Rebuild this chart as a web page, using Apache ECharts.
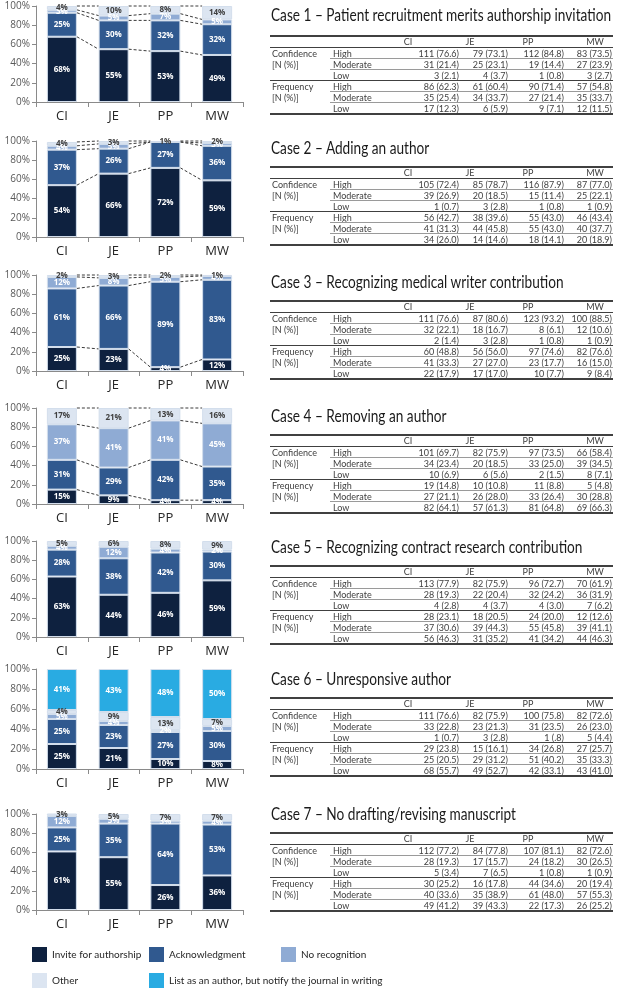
<!DOCTYPE html>
<html><head><meta charset="utf-8">
<script src="https://cdn.jsdelivr.net/npm/echarts/dist/echarts.min.js"></script>
<style>
html,body{margin:0;padding:0;background:#fff;}
#wrap{position:relative;width:618px;height:992px;overflow:hidden;background:#fff;}
#chart{position:absolute;left:0;top:0;width:618px;height:992px;}
.t{position:absolute;white-space:nowrap;font-family:Lato,"Open Sans",sans-serif;font-size:9px;color:#404040;line-height:11px;height:11px;}
.ttl{position:absolute;white-space:nowrap;font-family:Lato,"Open Sans",sans-serif;font-size:17px;color:#1a1a1a;line-height:20px;transform-origin:0 50%;}
.ln{position:absolute;height:1px;}
</style></head>
<body><div id="wrap"><div id="chart"></div></div>
<script>
// ---------- data ----------
const categories = ['CI', 'JE', 'PP', 'MW'];
const seriesNames = ['Invite for authorship', 'Acknowledgment', 'No recognition', 'Other', 'List as an author, but notify the journal in writing'];
const caseTitles = [
  'Case 1 – Patient recruitment merits authorship invitation',
  'Case 2 – Adding an author',
  'Case 3 – Recognizing medical writer contribution',
  'Case 4 – Removing an author',
  'Case 5 – Recognizing contract research contribution',
  'Case 6 – Unresponsive author',
  'Case 7 – No drafting/revising manuscript'
];
const yTicks = [0, 20, 40, 60, 80, 100];
const rowGroups = ['Confidence', 'Frequency'];
const rowLevels = ['High', 'Moderate', 'Low'];

const case1Invite = [68, 55, 53, 49];
const case1Ack    = [25, 30, 32, 32];
const case1NoRec  = [3, 5, 7, 5];
const case1Other  = [4, 10, 8, 14];

const case2Invite = [54, 66, 72, 59];
const case2Ack    = [37, 26, 27, 36];
const case2NoRec  = [4, 5, 0, 3];
const case2Other  = [4, 3, 1, 2];

const case3Invite = [25, 23, 4, 12];
const case3Ack    = [61, 66, 89, 83];
const case3NoRec  = [12, 8, 5, 4];
const case3Other  = [2, 3, 2, 1];

const case4Invite = [15, 9, 4, 4];
const case4Ack    = [31, 29, 42, 35];
const case4NoRec  = [37, 41, 41, 45];
const case4Other  = [17, 21, 13, 16];

const case5Invite = [63, 44, 46, 59];
const case5Ack    = [28, 38, 42, 30];
const case5NoRec  = [4, 12, 4, 2];
const case5Other  = [5, 6, 8, 9];

const case6Invite = [25, 21, 10, 8];
const case6Ack    = [25, 23, 27, 30];
const case6NoRec  = [5, 4, 2, 5];
const case6Other  = [4, 9, 13, 7];
const case6List   = [41, 43, 48, 50];

const case7Invite = [61, 55, 26, 36];
const case7Ack    = [25, 35, 64, 53];
const case7NoRec  = [12, 5, 3, 4];
const case7Other  = [3, 5, 7, 7];

// tables: rows = Confidence High/Moderate/Low, Frequency High/Moderate/Low; cols = CI, JE, PP, MW
const case1Table = [
  ['111 (76.6)', '79 (73.1)', '112 (84.8)', '83 (73.5)'],
  ['31 (21.4)', '25 (23.1)', '19 (14.4)', '27 (23.9)'],
  ['3 (2.1)', '4 (3.7)', '1 (0.8)', '3 (2.7)'],
  ['86 (62.3)', '61 (60.4)', '90 (71.4)', '57 (54.8)'],
  ['35 (25.4)', '34 (33.7)', '27 (21.4)', '35 (33.7)'],
  ['17 (12.3)', '6 (5.9)', '9 (7.1)', '12 (11.5)']
];
const case2Table = [
  ['105 (72.4)', '85 (78.7)', '116 (87.9)', '87 (77.0)'],
  ['39 (26.9)', '20 (18.5)', '15 (11.4)', '25 (22.1)'],
  ['1 (0.7)', '3 (2.8)', '1 (0.8)', '1 (0.9)'],
  ['56 (42.7)', '38 (39.6)', '55 (43.0)', '46 (43.4)'],
  ['41 (31.3)', '44 (45.8)', '55 (43.0)', '40 (37.7)'],
  ['34 (26.0)', '14 (14.6)', '18 (14.1)', '20 (18.9)']
];
const case3Table = [
  ['111 (76.6)', '87 (80.6)', '123 (93.2)', '100 (88.5)'],
  ['32 (22.1)', '18 (16.7)', '8 (6.1)', '12 (10.6)'],
  ['2 (1.4)', '3 (2.8)', '1 (0.8)', '1 (0.9)'],
  ['60 (48.8)', '56 (56.0)', '97 (74.6)', '82 (76.6)'],
  ['41 (33.3)', '27 (27.0)', '23 (17.7)', '16 (15.0)'],
  ['22 (17.9)', '17 (17.0)', '10 (7.7)', '9 (8.4)']
];
const case4Table = [
  ['101 (69.7)', '82 (75.9)', '97 (73.5)', '66 (58.4)'],
  ['34 (23.4)', '20 (18.5)', '33 (25.0)', '39 (34.5)'],
  ['10 (6.9)', '6 (5.6)', '2 (1.5)', '8 (7.1)'],
  ['19 (14.8)', '10 (10.8)', '11 (8.8)', '5 (4.8)'],
  ['27 (21.1)', '26 (28.0)', '33 (26.4)', '30 (28.8)'],
  ['82 (64.1)', '57 (61.3)', '81 (64.8)', '69 (66.3)']
];
const case5Table = [
  ['113 (77.9)', '82 (75.9)', '96 (72.7)', '70 (61.9)'],
  ['28 (19.3)', '22 (20.4)', '32 (24.2)', '36 (31.9)'],
  ['4 (2.8)', '4 (3.7)', '4 (3.0)', '7 (6.2)'],
  ['28 (23.1)', '18 (20.5)', '24 (20.0)', '12 (12.6)'],
  ['37 (30.6)', '39 (44.3)', '55 (45.8)', '39 (41.1)'],
  ['56 (46.3)', '31 (35.2)', '41 (34.2)', '44 (46.3)']
];
const case6Table = [
  ['111 (76.6)', '82 (75.9)', '100 (75.8)', '82 (72.6)'],
  ['33 (22.8)', '23 (21.3)', '31 (23.5)', '26 (23.0)'],
  ['1 (0.7)', '3 (2.8)', '1 (.8)', '5 (4.4)'],
  ['29 (23.8)', '15 (16.1)', '34 (26.8)', '27 (25.7)'],
  ['25 (20.5)', '29 (31.2)', '51 (40.2)', '35 (33.3)'],
  ['68 (55.7)', '49 (52.7)', '42 (33.1)', '43 (41.0)']
];
const case7Table = [
  ['112 (77.2)', '84 (77.8)', '107 (81.1)', '82 (72.6)'],
  ['28 (19.3)', '17 (15.7)', '24 (18.2)', '30 (26.5)'],
  ['5 (3.4)', '7 (6.5)', '1 (0.8)', '1 (0.9)'],
  ['30 (25.2)', '16 (17.8)', '44 (34.6)', '20 (19.4)'],
  ['40 (33.6)', '35 (38.9)', '61 (48.0)', '57 (55.3)'],
  ['49 (41.2)', '39 (43.3)', '22 (17.3)', '26 (25.2)']
];

// ---------- layout / style ----------
const FONT = 'Lato, "Open Sans", sans-serif';
const AXFONT = '"Open Sans", sans-serif';
const colors = ['#0e213f', '#30598f', '#8fabd4', '#dce5f1', '#29abe2'];
const labelColors = ['#ffffff', '#ffffff', '#ffffff', '#404040', '#ffffff'];
const gridTops = [6, 141, 275, 408, 541, 669, 814];
const gridHeights = [96, 96, 96, 96, 96, 100, 96];
const tableTops = [35, 166, 300, 434, 565, 697, 832];
const BARW = 30;

const cases = [
  {segs: [case1Invite, case1Ack, case1NoRec, case1Other], lines: true, table: case1Table},
  {segs: [case2Invite, case2Ack, case2NoRec, case2Other], lines: true, table: case2Table},
  {segs: [case3Invite, case3Ack, case3NoRec, case3Other], lines: true, table: case3Table},
  {segs: [case4Invite, case4Ack, case4NoRec, case4Other], lines: true, table: case4Table},
  {segs: [case5Invite, case5Ack, case5NoRec, case5Other], lines: false, table: case5Table},
  {segs: [case6Invite, case6Ack, case6NoRec, case6Other, case6List], lines: false, table: case6Table},
  {segs: [case7Invite, case7Ack, case7NoRec, case7Other], lines: false, table: case7Table}
];

const grid = [], xAxis = [], yAxis = [], series = [];
cases.forEach((c, k) => {
  grid.push({left: 36, width: 207, top: gridTops[k], height: gridHeights[k]});
  xAxis.push({
    type: 'category', gridIndex: k, data: categories,
    axisLine: {show: true, lineStyle: {color: '#8a8a8a', width: 1}},
    axisTick: {show: true, length: 5, lineStyle: {color: '#8a8a8a'}},
    axisLabel: {fontSize: 13, color: '#262626', margin: 8, fontFamily: AXFONT}
  });
  yAxis.push({
    type: 'value', gridIndex: k, min: 0, max: 100, interval: 20,
    axisLine: {show: true, lineStyle: {color: '#8a8a8a', width: 1}},
    axisTick: {show: true, length: 4, lineStyle: {color: '#8a8a8a'}},
    splitLine: {show: false},
    axisLabel: {formatter: '{value}%', fontSize: 10, color: '#595959', margin: 6, fontFamily: AXFONT}
  });
  c.segs.forEach((vals, s) => {
    series.push({
      type: 'bar', name: seriesNames[s], xAxisIndex: k, yAxisIndex: k, stack: 'st' + k,
      barWidth: BARW, data: vals,
      itemStyle: {color: colors[s], borderColor: '#d3deec', borderWidth: 1},
      label: {
        show: true, position: 'inside', fontSize: 8, fontWeight: 'bold', fontFamily: AXFONT,
        color: labelColors[s], formatter: p => (p.value ? p.value + '%' : '')
      },
      emphasis: {disabled: true}
    });
  });
  if (c.lines) {
    const cum = [];
    let run = [0, 0, 0, 0];
    c.segs.forEach(vals => { run = run.map((r, i) => r + vals[i]); cum.push(run.slice()); });
    const ldata = [];
    cum.forEach(arr => { for (let i = 0; i < 3; i++) ldata.push([i, arr[i], arr[i + 1]]); });
    series.push({
      type: 'custom', xAxisIndex: k, yAxisIndex: k, silent: true, z: 1,
      encode: {x: 0, y: [1, 2]},
      data: ldata,
      renderItem: (params, api) => {
        const i = api.value(0);
        const p1 = api.coord([i, api.value(1)]);
        const p2 = api.coord([i + 1, api.value(2)]);
        return {
          type: 'line',
          shape: {x1: p1[0] + BARW / 2, y1: p1[1], x2: p2[0] - BARW / 2, y2: p2[1]},
          style: {stroke: '#3a3a3a', lineWidth: 1, lineDash: [3, 2]}
        };
      }
    });
  }
});

const legendBase = {
  icon: 'rect', itemWidth: 15, itemHeight: 15, padding: 0, selectedMode: false,
  itemStyle: {borderWidth: 0},
  textStyle: {fontSize: 10, color: '#262626', fontFamily: FONT}
};
const legendPos = [[32, 947], [149, 947], [281, 947], [32, 973], [149, 973]];
const legend = seriesNames.map((n, i) => Object.assign({}, legendBase, {data: [n], left: legendPos[i][0], top: legendPos[i][1]}));

const chart = echarts.init(document.getElementById('chart'), null, {renderer: 'canvas', width: 618, height: 992});
chart.setOption({animation: false, backgroundColor: '#fff', grid, xAxis, yAxis, series, legend});

// ---------- tables (HTML text) ----------
const wrap = document.getElementById('wrap');
function txt(s, x, y, align, cls) {
  const d = document.createElement('div');
  d.className = cls || 't';
  d.textContent = s;
  if (align === 'right') { d.style.right = (618 - x) + 'px'; }
  else if (align === 'center') { d.style.left = x + 'px'; d.style.transform = 'translateX(-50%)'; }
  else { d.style.left = x + 'px'; }
  d.style.top = y + 'px';
  wrap.appendChild(d);
  return d;
}
function line(x1, x2, y, color, h) {
  const d = document.createElement('div');
  d.className = 'ln';
  d.style.left = x1 + 'px'; d.style.width = (x2 - x1) + 'px'; d.style.top = y + 'px';
  d.style.background = color; d.style.height = (h || 1) + 'px';
  wrap.appendChild(d);
}
const TL = 270, TR = 613, SUBX = 330;
const colRight = [459, 508, 564, 612];
const colHead = [408, 470, 528, 595];
const titleEls = [];
cases.forEach((c, k) => {
  const T = tableTops[k];
  titleEls.push(txt(caseTitles[k], 271, (k === 0 ? 5 : T - 28), 'left', 'ttl'));
  line(TL, TR, T, '#404040', 1.5);
  categories.forEach((cat, j) => txt(cat, colHead[j], T + 1, 'center'));
  line(TL, TR, T + 12, '#404040', 1);
  for (let r = 0; r < 6; r++) {
    const yc = T + 13 + 11 * r;
    txt(rowLevels[r % 3], 333, yc, 'left');
    c.table[r].forEach((v, j) => txt(v, colRight[j], yc, 'right'));
    if (r === 0 || r === 3) txt(rowGroups[r === 0 ? 0 : 1], 272, yc, 'left');
    if (r === 1 || r === 4) txt('[N (%)]', 272, yc, 'left');
    const ly = T + 12 + 11 * (r + 1);
    if (r === 2) line(TL, TR, ly, '#404040', 1);
    else if (r === 5) line(TL, TR, ly, '#404040', 1.5);
    else line(SUBX, TR, ly, '#9a9a9a', 1);
  }
});
// fit title font width: case 1 title spans 271..611 in the reference
const w1 = titleEls[0].getBoundingClientRect().width;
const sx = Math.min(1, 340 / w1);
titleEls.forEach(el => { el.style.transform = 'scaleX(' + sx + ')'; });
</script></body></html>
